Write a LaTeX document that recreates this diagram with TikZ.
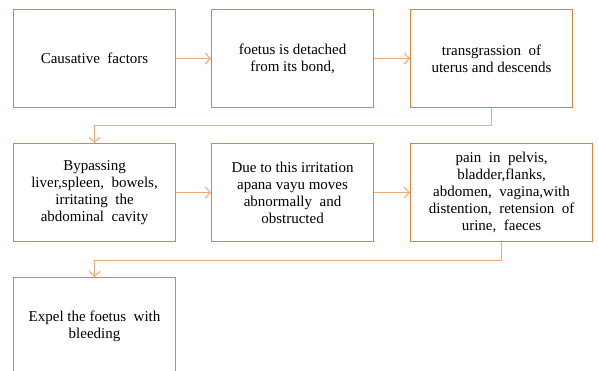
\documentclass[tikz,border=0pt]{standalone}
\usepackage{fontspec}
\setmainfont{LiberationSerif}[Extension=.ttf, UprightFont=*-Regular]
\usepackage{tikz}
\usetikzlibrary{arrows.meta}
\definecolor{boxorange}{RGB}{237,125,49}
\definecolor{linkorange}{RGB}{244,168,118}
\tikzstyle{box}=[rectangle, draw=boxorange, line width=1.1pt, anchor=north west, minimum width=162pt, minimum height=98pt, inner sep=2pt, align=center, font=\fontsize{15}{17}\selectfont]
\tikzstyle{link}=[draw=linkorange, line width=1.1pt, -{Straight Barb[length=5pt, width=11pt]}]

\begin{document}
\begin{tikzpicture}[x=1pt, y=-1pt]
\useasboundingbox (0,0) rectangle (599,371);

\node[box] (a1) at (13, 9) {Causative\ \ factors};
\node[box] (a2) at (211, 9) {foetus is detached\\from its bond,};
\node[box] (a3) at (410, 9) {transgrassion\ \ of\\uterus and descends};

\node[box] (b1) at (13, 143) {Bypassing\\liver,spleen,\ \ bowels,\\irritating\ \ the\\abdominal\ \ cavity};
\node[box] (b2) at (211, 143) {Due to this irritation\\apana vayu moves\\abnormally\ \ and\\obstructed};
\node[box, minimum width=182pt] (b3) at (410, 143) {pain\ \ in\ \ pelvis,\\bladder,flanks,\\abdomen,\ \ vagina,with\\distention,\ \ retension\ \ of\\urine,\ \ faeces};

\node[box] (c1) at (13, 277) {Expel the foetus\ \ with\\bleeding};

\draw[link] (a1) -- (a2);
\draw[link] (a2) -- (a3);
\draw[link] (a3.south) -- ++(0,17) -| (b1.north);
\draw[link] (b1) -- (b2);
\draw[link] (b2) -- (b3);
\draw[link] (b3.south) -- ++(0,18) -| (c1.north);
\end{tikzpicture}
\end{document}
